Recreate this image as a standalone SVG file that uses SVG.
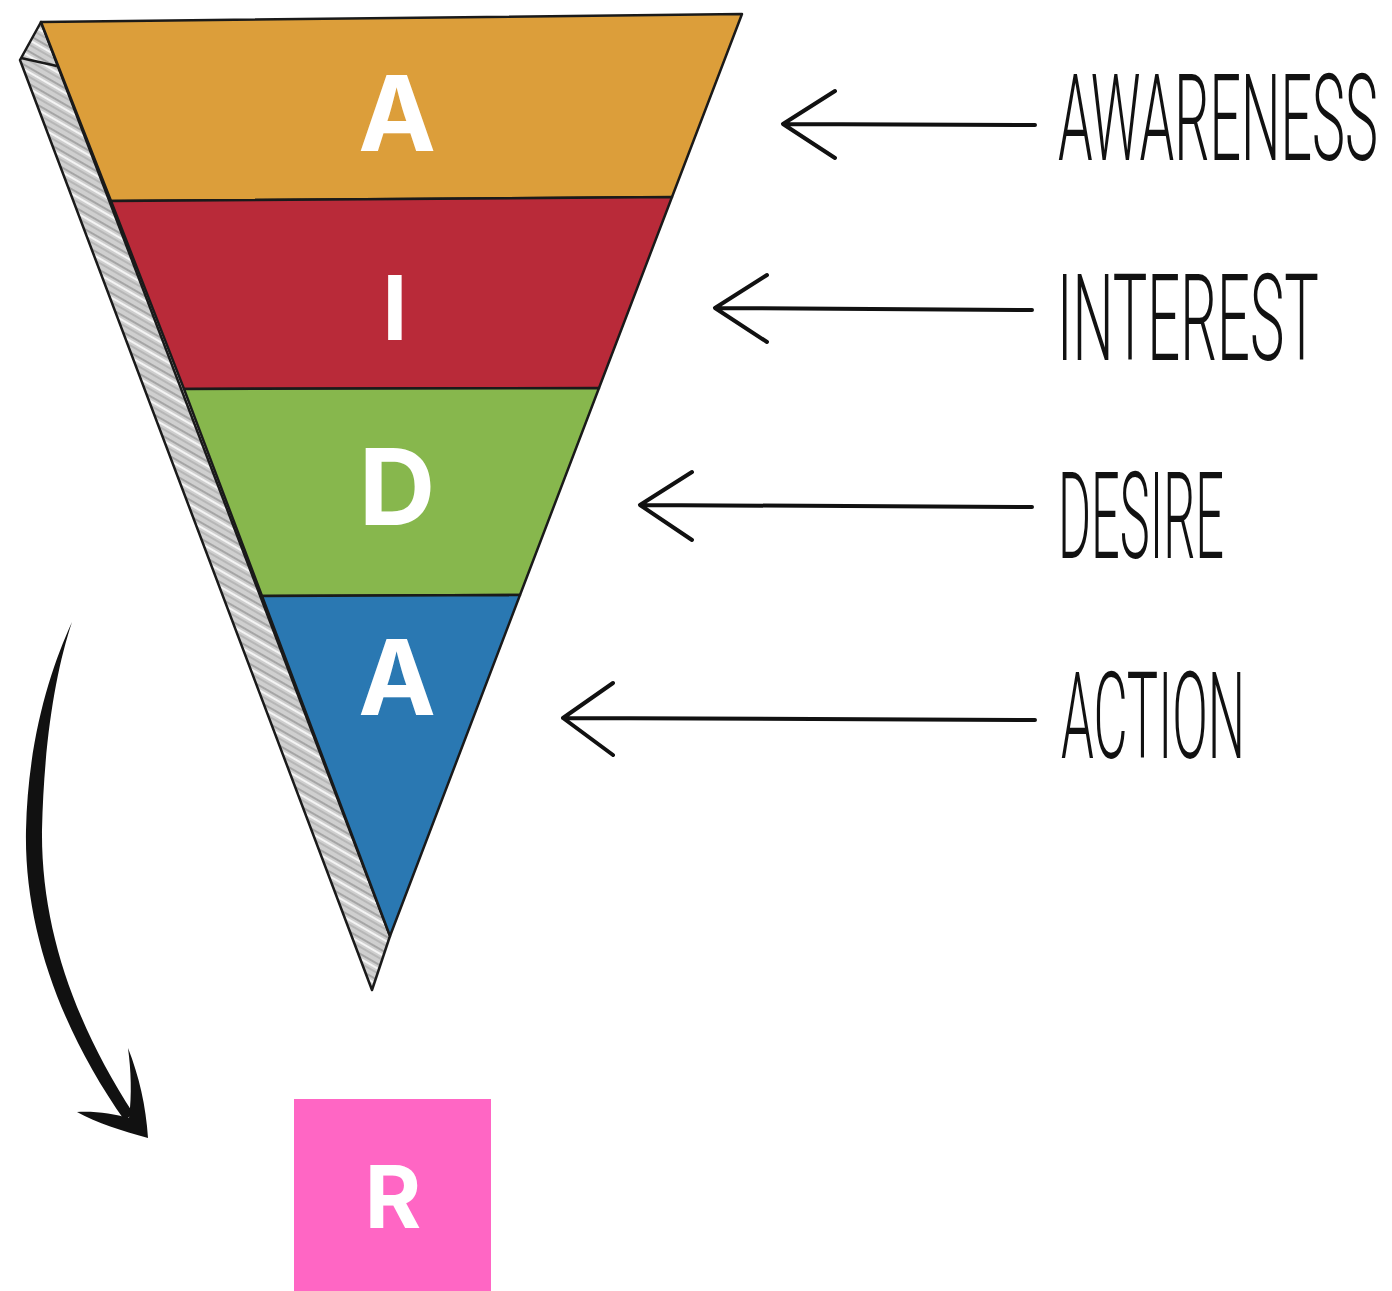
<svg xmlns="http://www.w3.org/2000/svg" width="1392" height="1291" viewBox="0 0 1392 1291">
  <style>
    .edge { stroke: #1a1a1a; stroke-width: 2.5; stroke-linejoin: round; }
    .big { font-family: Inter, "Open Sans", "DejaVu Sans", sans-serif; font-weight: 700; fill: #ffffff; text-anchor: middle; }
    .label { font-family: Roboto, "DejaVu Sans", sans-serif; font-weight: 300; fill: #111111; font-size: 120px; }
    .arrow { fill: none; stroke: #111111; stroke-width: 4; stroke-linecap: round; stroke-linejoin: round; }
  </style>
  <defs>
    <pattern id="hatch" patternUnits="userSpaceOnUse" width="14" height="14" patternTransform="rotate(30)">
      <rect width="14" height="14" fill="#cfcfcf"/>
      <line x1="0" y1="2" x2="14" y2="2" stroke="#8a8a8a" stroke-width="1.2"/>
      <line x1="0" y1="6" x2="14" y2="6" stroke="#f4f4f4" stroke-width="2"/>
      <line x1="0" y1="10" x2="14" y2="10" stroke="#a0a0a0" stroke-width="1"/>
    </pattern>
  </defs>
  <rect width="1392" height="1291" fill="#ffffff"/>

  <g id="funnel-side">
    <polygon class="edge" points="41,22 20,60 372,990 390,936" fill="url(#hatch)"/>
    <line class="edge" x1="21" y1="58" x2="57" y2="66"/>
  </g>

  <g id="band-awareness">
    <polygon class="edge" points="41,22 742,14 672,197 111,201" fill="#DC9E3A"/>
    <text class="big" x="397" y="151" font-size="104">A</text>
  </g>
  <g id="band-interest">
    <polygon class="edge" points="111,201 672,197 599,388 184,389" fill="#B92A39"/>
    <text class="big" x="395" y="340" font-size="90">I</text>
  </g>
  <g id="band-desire">
    <polygon class="edge" points="184,389 599,388 520,595 262,596" fill="#87B74D"/>
    <text class="big" x="397" y="525" font-size="106">D</text>
  </g>
  <g id="band-action">
    <polygon class="edge" points="262,596 520,595 390,936" fill="#2A78B2"/>
    <text class="big" x="397" y="715" font-size="104">A</text>
  </g>

  <g id="label-awareness">
    <text class="label" transform="translate(1058,160) scale(0.45,1)" x="0" y="0" textLength="711" lengthAdjust="spacingAndGlyphs">AWARENESS</text>
  </g>
  <g id="label-interest">
    <text class="label" transform="translate(1057,360) scale(0.45,1)" x="0" y="0" textLength="582" lengthAdjust="spacingAndGlyphs">INTEREST</text>
  </g>
  <g id="label-desire">
    <text class="label" transform="translate(1058,558) scale(0.45,1)" x="0" y="0" textLength="369" lengthAdjust="spacingAndGlyphs">DESIRE</text>
  </g>
  <g id="label-action">
    <text class="label" transform="translate(1061,758) scale(0.45,1)" x="0" y="0" textLength="409" lengthAdjust="spacingAndGlyphs">ACTION</text>
  </g>

  <g id="node-r">
    <rect x="294" y="1099" width="197" height="192" fill="#FF66C4"/>
    <text class="big" x="393" y="1228" font-size="86">R</text>
  </g>

  <g id="connectors">
    <path class="arrow" d="M1035,125 L783,124 M835,91 L783,124 L835,158"/>
    <path class="arrow" d="M1032,310 L715,308 M767,275 L715,308 L767,342"/>
    <path class="arrow" d="M1032,507 L640,505 M692,472 L640,505 L692,540"/>
    <path class="arrow" d="M1035,720 L563,718 M613,683 L563,718 L613,755"/>
    <path fill="#111111" d="M72,622 C50,670 28,740 26,830 C24,930 62,1032 125,1121 L133,1113 C76,1025 41,930 42,830 C44,740 56,670 72,622 Z"/>
    <path fill="#111111" d="M148,1138 C122,1131 97,1123 77,1112 C96,1111 114,1114 129,1118 C132,1095 131,1070 128,1048 C139,1076 146,1106 148,1138 Z"/>
  </g>
</svg>
